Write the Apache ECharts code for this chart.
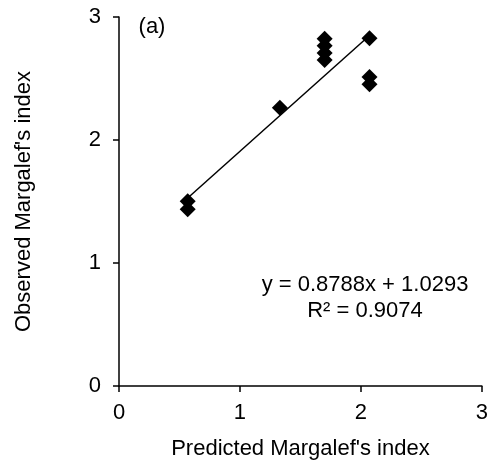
<!DOCTYPE html>
<html>
<head>
<meta charset="utf-8">
<script src="https://cdn.jsdelivr.net/npm/echarts@6/dist/echarts.min.js"></script>
<style>
html,body{margin:0;padding:0;background:#fff;}
#chart{width:491px;height:465px;}
</style>
</head>
<body>
<div id="chart"></div>
<script>
// Predicted vs observed Margalef's index
var predicted = [0.568, 0.568, 1.33, 1.70, 1.70, 1.70, 1.70, 2.071, 2.071, 2.071];
var observed  = [1.502, 1.437, 2.263, 2.823, 2.766, 2.708, 2.651, 2.827, 2.513, 2.454];
var slope = 0.8788;
var intercept = 1.0293;
var equationText = "y = 0.8788x + 1.0293";
var r2Text = "R\u00b2 = 0.9074";
var panelLabel = "(a)";
var xTicks = [0, 1, 2, 3];
var yTicks = [0, 1, 2, 3];

var points = predicted.map(function (x, i) { return [x, observed[i]]; });
var xMin = Math.min.apply(null, predicted);
var xMax = Math.max.apply(null, predicted);
var trend = [[xMin, slope * xMin + intercept], [xMax, slope * xMax + intercept]];

var FONT = "Liberation Sans, Arial, sans-serif";
var FS = 22;
var chart = echarts.init(document.getElementById('chart'), null, {renderer: 'canvas'});
chart.setOption({
  animation: false,
  backgroundColor: '#fff',
  grid: {left: 119, right: 6, top: 17, bottom: 77, containLabel: false},
  xAxis: {
    type: 'value', min: 0, max: 3, interval: 1,
    name: "Predicted Margalef's index", nameLocation: 'middle', nameGap: 52,
    nameTextStyle: {fontFamily: FONT, fontSize: FS, color: '#000'},
    axisLine: {show: true, onZero: false, lineStyle: {color: '#000', width: 1.5}},
    axisTick: {show: true, inside: false, length: 6, lineStyle: {color: '#000', width: 1.5}},
    axisLabel: {fontFamily: FONT, fontSize: FS, color: '#000', margin: 16,
      formatter: function (v) { return xTicks.indexOf(v) >= 0 ? String(v) : ''; }},
    splitLine: {show: false}
  },
  yAxis: {
    type: 'value', min: 0, max: 3, interval: 1,
    name: "Observed Margalef's index", nameLocation: 'middle', nameGap: 84, nameRotate: 90,
    nameTextStyle: {fontFamily: FONT, fontSize: FS, color: '#000'},
    axisLine: {show: true, onZero: false, lineStyle: {color: '#000', width: 1.5}},
    axisTick: {show: true, inside: false, length: 6, lineStyle: {color: '#000', width: 1.5}},
    axisLabel: {fontFamily: FONT, fontSize: FS, color: '#000', margin: 18,
      formatter: function (v) { return yTicks.indexOf(v) >= 0 ? String(v) : ''; }},
    splitLine: {show: false}
  },
  series: [
    {
      type: 'line', data: trend, symbol: 'none', z: 1,
      lineStyle: {color: '#000', width: 1.5}
    },
    {
      type: 'scatter', data: points, symbol: 'diamond', symbolSize: 16, z: 2,
      itemStyle: {color: '#000', opacity: 1}
    }
  ],
  graphic: [
    {type: 'text', x: 365, y: 285, style: {text: equationText, font: FS + 'px ' + FONT, fill: '#000', align: 'center', verticalAlign: 'middle'}},
    {type: 'text', x: 365, y: 311, style: {text: r2Text, font: FS + 'px ' + FONT, fill: '#000', align: 'center', verticalAlign: 'middle'}},
    {type: 'text', x: 152, y: 27, style: {text: panelLabel, font: FS + 'px ' + FONT, fill: '#000', align: 'center', verticalAlign: 'middle'}}
  ]
});
</script>
</body>
</html>
